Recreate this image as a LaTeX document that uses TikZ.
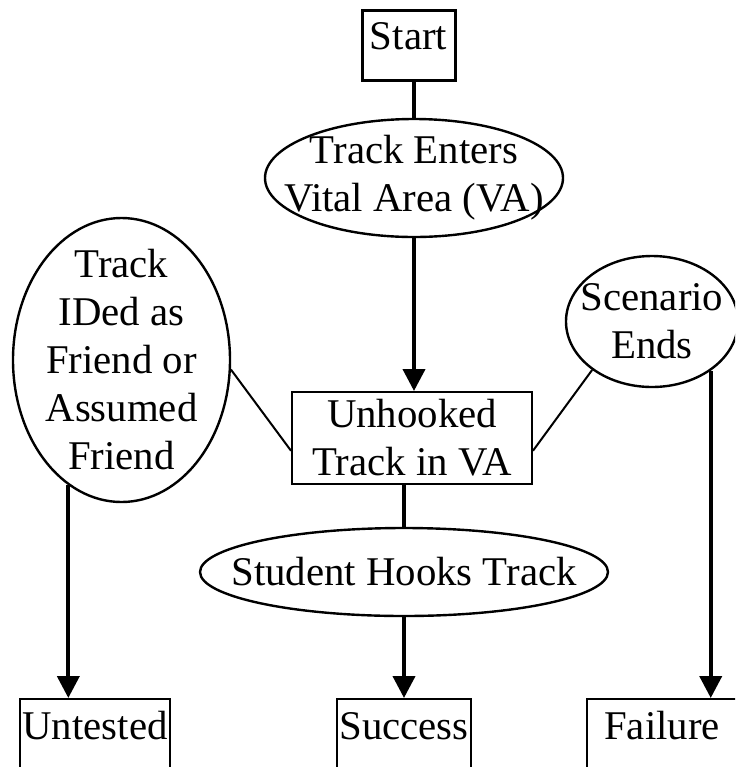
\documentclass[tikz,border=0pt]{standalone}
\usepackage{fontspec}
\setmainfont{Liberation Serif}
\usepackage{tikz}
\usetikzlibrary{shapes,arrows.meta,positioning,calc}

\begin{document}
\begin{tikzpicture}[
    x=0.5pt, y=-0.5pt,
    every node/.style={font=\fontsize{20.4pt}{24pt}\selectfont},
    box/.style={rectangle, draw=black, line width=1pt, inner sep=0pt, align=center},
    endbox/.style={box, anchor=north, text height=20pt, text depth=30pt},
    oval/.style={ellipse, draw=black, line width=1.2pt, inner sep=-80pt, align=center},
    arrow/.style={-{Triangle[length=11pt,width=11pt]}, line width=2pt},
    stem/.style={line width=2pt},
    link/.style={line width=1pt}
]

\useasboundingbox (0,0) rectangle (735,767);
\clip (0,0) rectangle (735,767);

% Start and entry
\node[box, anchor=north, line width=1.5pt, minimum width=46.5pt, text height=19.5pt, text depth=15.5pt] (start) at (408.5,9) {Start};
\node[oval, minimum width=149pt, minimum height=59pt] (enters) at (414,178) {Track Enters\\Vital Area (VA)};

% Central state
\node[box, minimum width=120pt, minimum height=46pt] (unhooked) at (412,438) {Unhooked\\Track in VA};

% Side events
\node[oval, minimum width=108.5pt, minimum height=142pt] (friend) at (121.5,360) {Track\\IDed as\\Friend or\\Assumed\\Friend};
\node[oval, minimum width=86pt, minimum height=65.5pt] (scen) at (652,321.5) {Scenario\\Ends};
\node[oval, minimum width=204pt, minimum height=44pt] (hooks) at (404,572) {Student Hooks Track};

% Outcomes
\node[endbox, minimum width=75pt] (untested) at (95,698) {Untested};
\node[endbox, minimum width=67pt] (success) at (404,698) {Success};
\node[endbox, minimum width=75pt] (failure) at (662,698) {Failure};

% Main path
\draw[stem] (enters.north) -- (enters.north |- start.south);
\draw[arrow] (enters.south) -- (enters.south |- unhooked.north);
\draw[stem] (hooks.north) -- (hooks.north |- unhooked.south);
\draw[arrow] (hooks.south) -- (success.north);

% Side paths
\draw[link] (friend.-5) -- (unhooked.186);
\draw[link] (scen.219) -- (unhooked.-6);
\draw[arrow] (friend.247) -- (friend.247 |- untested.north);
\draw[arrow] (scen.-40) -- (scen.-40 |- failure.north);

\end{tikzpicture}
\end{document}
